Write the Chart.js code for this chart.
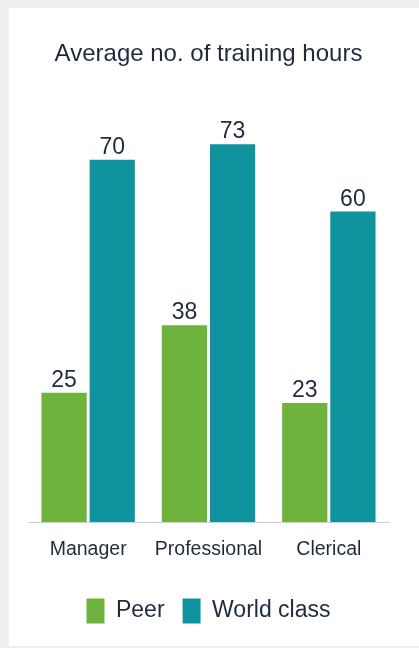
<!DOCTYPE html>
<html>
<head>
<meta charset="utf-8">
<title>Average no. of training hours</title>
<script src="https://cdn.jsdelivr.net/npm/chart.js@4"></script>
<style>
  html, body { margin: 0; padding: 0; background: #efefef; }
  body { width: 419px; height: 648px; position: relative; overflow: hidden; }
  .panel { position: absolute; left: 9px; top: 8px; right: 0; bottom: 2px; background: #fff; }
  .wrap { position: absolute; left: 0; top: 0; width: 419px; height: 648px; }
</style>
</head>
<body>
<div class="panel"></div>
<div class="wrap"><canvas id="chart"></canvas></div>
<script>
const categories = ['Manager', 'Professional', 'Clerical'];
const peerHours = [25, 38, 23];
const worldClassHours = [70, 73, 60];

const FONT = '"Liberation Sans", Arial, sans-serif';
const TEXT = '#1f2b3c';

// value above each bar
const barValues = {
    id: 'barValues',
    afterDatasetsDraw(chart) {
        const ctx = chart.ctx;
        ctx.save();
        ctx.font = '23px ' + FONT;
        ctx.fillStyle = TEXT;
        ctx.textAlign = 'center';
        ctx.textBaseline = 'alphabetic';
        chart.data.datasets.forEach((ds, i) => {
            chart.getDatasetMeta(i).data.forEach((bar, j) => {
                ctx.fillText(ds.data[j], bar.x, bar.y - 6);
            });
        });
        ctx.restore();
    }
};

new Chart(document.getElementById('chart'), {
    type: 'bar',
    data: {
        labels: categories,
        datasets: [{
            label: 'Peer',
            data: peerHours,
            backgroundColor: '#6fb33f'
        }, {
            label: 'World class',
            data: worldClassHours,
            backgroundColor: '#0f939e'
        }]
    },
    options: {
        responsive: true,
        maintainAspectRatio: false,
        animation: false,
        categoryPercentage: 0.8,
        barPercentage: 0.94,
        layout: { padding: { top: 0, left: 28, right: 30, bottom: 14.5 } },
        scales: {
            x: {
                grid: { display: true, color: 'rgba(0,0,0,0)', drawTicks: false, drawOnChartArea: false },
                border: { color: '#c9d1d8', width: 1 },
                ticks: {
                    font: { family: FONT, size: 19.5 },
                    color: TEXT,
                    padding: 16,
                    maxRotation: 0,
                    autoSkip: false
                },
                afterFit(scale) { scale.height = 58.5; }
            },
            y: { display: false, min: 0, max: 80 }
        },
        plugins: {
            title: {
                display: true,
                text: 'Average no. of training hours',
                color: TEXT,
                font: { family: FONT, size: 24, weight: 'normal' },
                padding: { top: 39.6, bottom: 39.6 }
            },
            legend: {
                position: 'bottom',
                labels: {
                    boxWidth: 18,
                    boxHeight: 25,
                    padding: 18,
                    color: TEXT,
                    font: { family: FONT, size: 23 }
                }
            },
            tooltip: { enabled: false }
        }
    },
    plugins: [barValues]
});
</script>
</body>
</html>
